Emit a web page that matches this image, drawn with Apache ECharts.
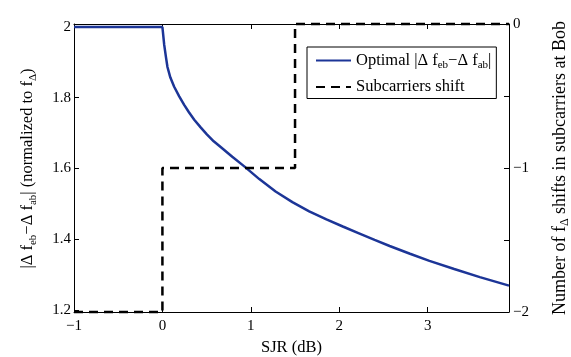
<!DOCTYPE html>
<html>
<head>
<meta charset="utf-8">
<script src="https://cdn.jsdelivr.net/npm/echarts@6/dist/echarts.min.js"></script>
<style>
  html, body { margin: 0; padding: 0; background: #fff; }
  #chart { width: 571px; height: 357px; }
</style>
</head>
<body>
<div id="chart"></div>
<script>
// optimal |Δf_eb - Δf_ab| curve
const sjrOpt = [-1, 0, 0.02, 0.04, 0.057, 0.09, 0.133, 0.19, 0.246, 0.3, 0.36, 0.43, 0.5, 0.58, 0.662, 0.79, 0.926, 1.096, 1.28, 1.47, 1.66, 1.855, 2.04, 2.23, 2.4, 2.57, 2.8, 3.02, 3.3, 3.59, 3.92]
const optVals = [2, 2, 1.95, 1.915, 1.887, 1.857, 1.831, 1.804, 1.780, 1.759, 1.738, 1.717, 1.697, 1.677, 1.660, 1.633, 1.606, 1.570, 1.535, 1.505, 1.479, 1.456, 1.436, 1.416, 1.398, 1.381, 1.359, 1.339, 1.316, 1.293, 1.269]
// subcarrier shift (right axis)
const sjrShift = [-1, 0, 0, 1.5, 1.5, 3.92]
const shiftVals = [-2, -2, -1, -1, 0, 0]
const xTicks = [-1, 0, 1, 2, 3]
const leftTicks = [1.2, 1.4, 1.6, 1.8, 2]
const rightTicks = [-2, -1, 0]

const FONT = "'Liberation Serif', 'DejaVu Serif', serif"
const minus = v => String(v).replace('-', '\u2212')

const chart = echarts.init(document.getElementById('chart'))

const line = { show: true, onZero: false, lineStyle: { color: '#000', width: 1 } }
const tick = { show: true, inside: true, length: 5, lineStyle: { color: '#000' } }
const lbl = { fontSize: 15, fontFamily: FONT, color: '#000' }

chart.setOption({
  backgroundColor: '#fff',
  animation: false,
  grid: [
    // data area of the left axis (2 sits a little below the box top)
    { left: 74, right: 62, top: 27, bottom: 47, outerBoundsMode: 'none' },
    // box, right axis, x axes
    { left: 74, right: 62, top: 24, bottom: 45, outerBoundsMode: 'none' }
  ],
  legend: {
    left: 307, top: 47,
    orient: 'vertical',
    padding: [5, 5, 3, 8],
    itemGap: 8,
    itemWidth: 35,
    itemHeight: 14,
    borderColor: '#000', borderWidth: 1,
    backgroundColor: '#fff',
    itemStyle: { opacity: 0 },
    textStyle: {
      fontSize: 16.5, fontFamily: FONT, color: '#000',
      rich: {
        n: { fontSize: 16.5, fontFamily: FONT, color: '#000', verticalAlign: 'middle', lineHeight: 20 },
        s: { fontSize: 11, fontFamily: FONT, color: '#000', verticalAlign: 'bottom', lineHeight: 11 }
      }
    },
    formatter: name => name === 'opt' ? '{n|Optimal |\u0394 f}{s|eb}{n|\u2212\u0394 f}{s|ab}{n||}' : '{n|Subcarriers shift}',
    data: ['opt', 'shift']
  },
  xAxis: [
    {
      gridIndex: 0, type: 'value', min: -1, max: 3.92, show: false
    },
    {
      gridIndex: 1, type: 'value', min: -1, max: 3.92, interval: 1, position: 'bottom',
      name: 'SJR (dB)', nameLocation: 'middle', nameGap: 26,
      nameTextStyle: { fontSize: 16.5, fontFamily: FONT, color: '#000' },
      axisLine: line, axisTick: tick, splitLine: { show: false },
      axisLabel: Object.assign({ margin: 7, showMaxLabel: false,
        formatter: v => xTicks.includes(v) ? minus(v) : '' }, lbl)
    },
    {
      gridIndex: 1, type: 'value', min: -1, max: 3.92, interval: 1, position: 'top',
      axisLine: line, axisTick: tick, splitLine: { show: false },
      axisLabel: { show: false }
    }
  ],
  yAxis: [
    {
      gridIndex: 0, type: 'value', min: 1.2, max: 2, interval: 0.2, position: 'left',
      name: '{n||\u0394 f}{s|eb}{n|\u2212\u0394 f}{s|ab}{n|| (normalized to f}{s|\u0394}{n|)}',
      nameLocation: 'middle', nameRotate: 90, nameGap: 35,
      nameTextStyle: { rich: {
        n: { fontSize: 16.5, fontFamily: FONT, color: '#000', verticalAlign: 'middle', lineHeight: 22 },
        s: { fontSize: 11, fontFamily: FONT, color: '#000', verticalAlign: 'bottom', lineHeight: 11 }
      } },
      axisLine: { show: false, onZero: false }, axisTick: tick, splitLine: { show: false },
      axisLabel: Object.assign({ margin: 3,
        formatter: v => leftTicks.some(t => Math.abs(t - v) < 1e-6) ? String(+v.toFixed(1)) : '' }, lbl)
    },
    {
      gridIndex: 1, type: 'value', min: -2, max: 0, interval: 0.5, position: 'right',
      name: '{n|Number of f}{s|\u0394}{n| shifts in subcarriers at Bob}',
      nameLocation: 'middle', nameRotate: 90, nameGap: 40,
      nameTextStyle: { rich: {
        n: { fontSize: 18, fontFamily: FONT, color: '#000', verticalAlign: 'middle', lineHeight: 22 },
        s: { fontSize: 12, fontFamily: FONT, color: '#000', verticalAlign: 'bottom', lineHeight: 12 }
      } },
      axisLine: line, axisTick: tick, splitLine: { show: false },
      axisLabel: Object.assign({ margin: 4,
        formatter: v => rightTicks.includes(v) ? minus(v) : '' }, lbl)
    },
    {
      // left edge of the box
      gridIndex: 1, type: 'value', min: -2, max: 0, position: 'left',
      axisLine: line, axisTick: { show: false }, axisLabel: { show: false }, splitLine: { show: false }
    }
  ],
  series: [
    {
      name: 'opt', type: 'line', xAxisIndex: 0, yAxisIndex: 0,
      data: sjrOpt.map((x, i) => [x, optVals[i]]),
      showSymbol: false, symbol: 'none', clip: false,
      lineStyle: { color: '#1c3597', width: 2.5 },
      itemStyle: { color: '#1c3597' }
    },
    {
      name: 'shift', type: 'line', xAxisIndex: 1, yAxisIndex: 1,
      data: sjrShift.map((x, i) => [x, shiftVals[i]]),
      showSymbol: false, symbol: 'none', clip: false,
      lineStyle: { color: '#000', width: 2.5, type: [9, 6] },
      itemStyle: { color: '#000' }
    }
  ]
})
</script>
</body>
</html>
